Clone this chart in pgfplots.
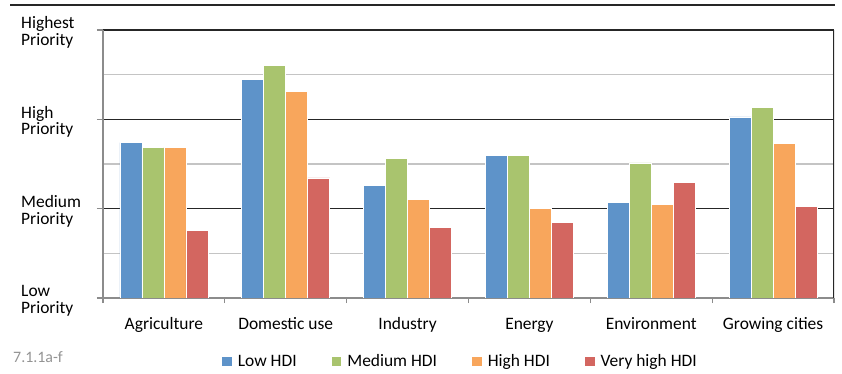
\documentclass[border=0pt]{standalone}
\usepackage{pgfplots}
\pgfplotsset{compat=1.18}
\usepackage{fontspec}
\setmainfont{Carlito}
\definecolor{cLow}{HTML}{5E93C9}
\definecolor{cMed}{HTML}{A9C46E}
\definecolor{cHigh}{HTML}{F8A65C}
\definecolor{cVH}{HTML}{D36660}
\definecolor{cGrid}{HTML}{262626}
\definecolor{cMinor}{HTML}{C4C4C4}
\definecolor{cAxis}{HTML}{8C8C8C}
\begin{document}
\begin{tikzpicture}
\begin{axis}[
  at={(103bp,76bp)}, anchor=south west,
  scale only axis, width=731bp, height=268bp,
  ybar=0bp, bar width=22bp,
  xmin=-0.5, xmax=5.5, ymin=0, ymax=3,
  axis x line*=bottom, axis y line*=left,
  axis line style={cAxis, line width=1.5bp, -},
  tick align=outside,
  major tick length=6bp, minor tick length=5bp,
  xtick={0,...,5},
  xticklabels={Agriculture, Domestic use, Industry, Energy, Environment, Growing cities},
  minor xtick={-0.5,0.5,...,5.5},
  major x tick style={draw=none},
  minor x tick style={draw=cAxis, line width=1.2bp},
  x tick label style={anchor=base, yshift=-25.3bp, inner sep=0pt, font=\fontsize{17.5}{20}\selectfont},
  ytick={0,1,2,3},
  minor ytick={0.5,1.5,2.5},
  yticklabels={{Low\\Priority},{Medium\\Priority},{High\\Priority},{Highest\\Priority}},
  y tick label style={anchor=west, align=left, inner sep=0pt, xshift=-76bp, yshift=-2.5bp, font=\fontsize{17.5}{16.7}\selectfont},
  major y tick style={draw=cAxis, line width=1.2bp},
  minor y tick style={draw=none},
  ymajorgrids, yminorgrids,
  major grid style={cGrid, line width=1.3bp},
  minor grid style={cMinor, line width=1.5bp},
  legend columns=4,
  legend style={at={(0.489,-0.237)}, anchor=center, draw=none, fill=none,
    font=\fontsize{17.5}{20}\selectfont,
    /tikz/every odd column/.append style={column sep=4bp},
    /tikz/every even column/.append style={column sep=33bp}},
  legend image code/.code={\fill[#1, draw=none] (0bp,-4.85bp) rectangle (9.7bp,4.85bp);},
]
\addplot[fill=cLow, draw=white, line width=0.6bp] coordinates {(0,1.74) (1,2.45) (2,1.26) (3,1.595) (4,1.066) (5,2.027)};
\addlegendentry{Low HDI}
\addplot[fill=cMed, draw=white, line width=0.6bp] coordinates {(0,1.69) (1,2.60) (2,1.565) (3,1.595) (4,1.513) (5,2.132)};
\addlegendentry{Medium HDI}
\addplot[fill=cHigh, draw=white, line width=0.6bp] coordinates {(0,1.69) (1,2.31) (2,1.107) (3,1.0) (4,1.051) (5,1.733)};
\addlegendentry{High HDI}
\addplot[fill=cVH, draw=white, line width=0.6bp] coordinates {(0,0.76) (1,1.345) (2,0.794) (3,0.846) (4,1.293) (5,1.029)};
\addlegendentry{Very high HDI}
\draw[cGrid, line width=1.5bp] (rel axis cs:1,0) -- (rel axis cs:1,1);
\end{axis}
\draw[cGrid, line width=2bp] (10bp,369bp) -- (835bp,369bp);
\node[anchor=base west, text=gray!85, inner sep=0pt, font=\fontsize{16}{18}\selectfont] at (13bp,11.5bp) {7.1.1a-f};
\pgfresetboundingbox
\useasboundingbox (0,0) rectangle (842bp,374bp);
\end{tikzpicture}
\end{document}
